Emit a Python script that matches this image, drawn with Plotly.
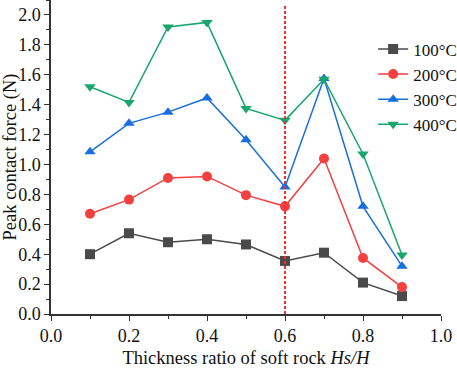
import plotly.graph_objects as go

ratio = [0.1, 0.2, 0.3, 0.4, 0.5, 0.6, 0.7, 0.8, 0.9]
t100 = [0.40, 0.54, 0.48, 0.50, 0.465, 0.355, 0.41, 0.21, 0.12]
t200 = [0.67, 0.765, 0.91, 0.92, 0.795, 0.72, 1.04, 0.375, 0.18]
t300 = [1.085, 1.275, 1.35, 1.445, 1.165, 0.85, 1.575, 0.72, 0.32]
t400 = [1.52, 1.415, 1.92, 1.95, 1.375, 1.295, 1.57, 1.07, 0.395]
names = ["100°C", "200°C", "300°C", "400°C"]
colors = ["#4a4a4a", "#f54040", "#1a6fdf", "#18a56e"]
symbols = ["square", "circle", "triangle-up", "triangle-down"]
split_x = 0.6

font = "Liberation Serif, Times New Roman, serif"
fig = go.Figure()
for name, vals, c, s in zip(names, [t100, t200, t300, t400], colors, symbols):
    fig.add_trace(go.Scatter(
        x=ratio, y=vals, name=name, mode="lines+markers",
        line=dict(color=c, width=1.5),
        marker=dict(symbol=s, size=10, color=c),
    ))

fig.add_shape(type="line", x0=split_x, x1=split_x, y0=0, y1=2.07, xref="x", yref="y",
              line=dict(color="#f03030", width=2, dash="3px,2px"))

axis_common = dict(
    showline=True, linecolor="#333333", linewidth=1.5,
    ticks="outside", ticklen=5, tickwidth=1.2, tickcolor="#333333",
    showgrid=False, zeroline=False, mirror=False, automargin=False,
    tickfont=dict(family=font, size=18, color="#111111"),
)
fig.update_xaxes(range=[0, 1.0], dtick=0.2, tickformat=".1f",
                 minor=dict(ticks="outside", ticklen=3, dtick=0.1, tickcolor="#333333"),
                 title=dict(text="Thickness ratio of soft rock <i>Hs/H</i>",
                            font=dict(family=font, size=18.5, color="#111111"), standoff=16),
                 **axis_common)
fig.update_yaxes(range=[0, 2.1], dtick=0.2, tickformat=".1f",
                 minor=dict(ticks="outside", ticklen=3, dtick=0.1, tickcolor="#333333"),
                 title=dict(text="Peak contact force (N)",
                            font=dict(family=font, size=18.5, color="#111111"), standoff=4),
                 **axis_common)

fig.update_layout(
    width=457, height=368,
    margin=dict(l=51, r=16, t=0, b=54, autoexpand=False),
    plot_bgcolor="white", paper_bgcolor="white",
    showlegend=True,
    legend=dict(x=0.826, y=0.90, xanchor="left", yanchor="top",
                font=dict(family=font, size=17, color="#111111"),
                bgcolor="rgba(0,0,0,0)", tracegroupgap=0, itemwidth=30),
)
fig.write_html("out.html", config={"displayModeBar": False},
               post_script="document.body.style.margin='0';document.body.style.overflow='hidden';")
